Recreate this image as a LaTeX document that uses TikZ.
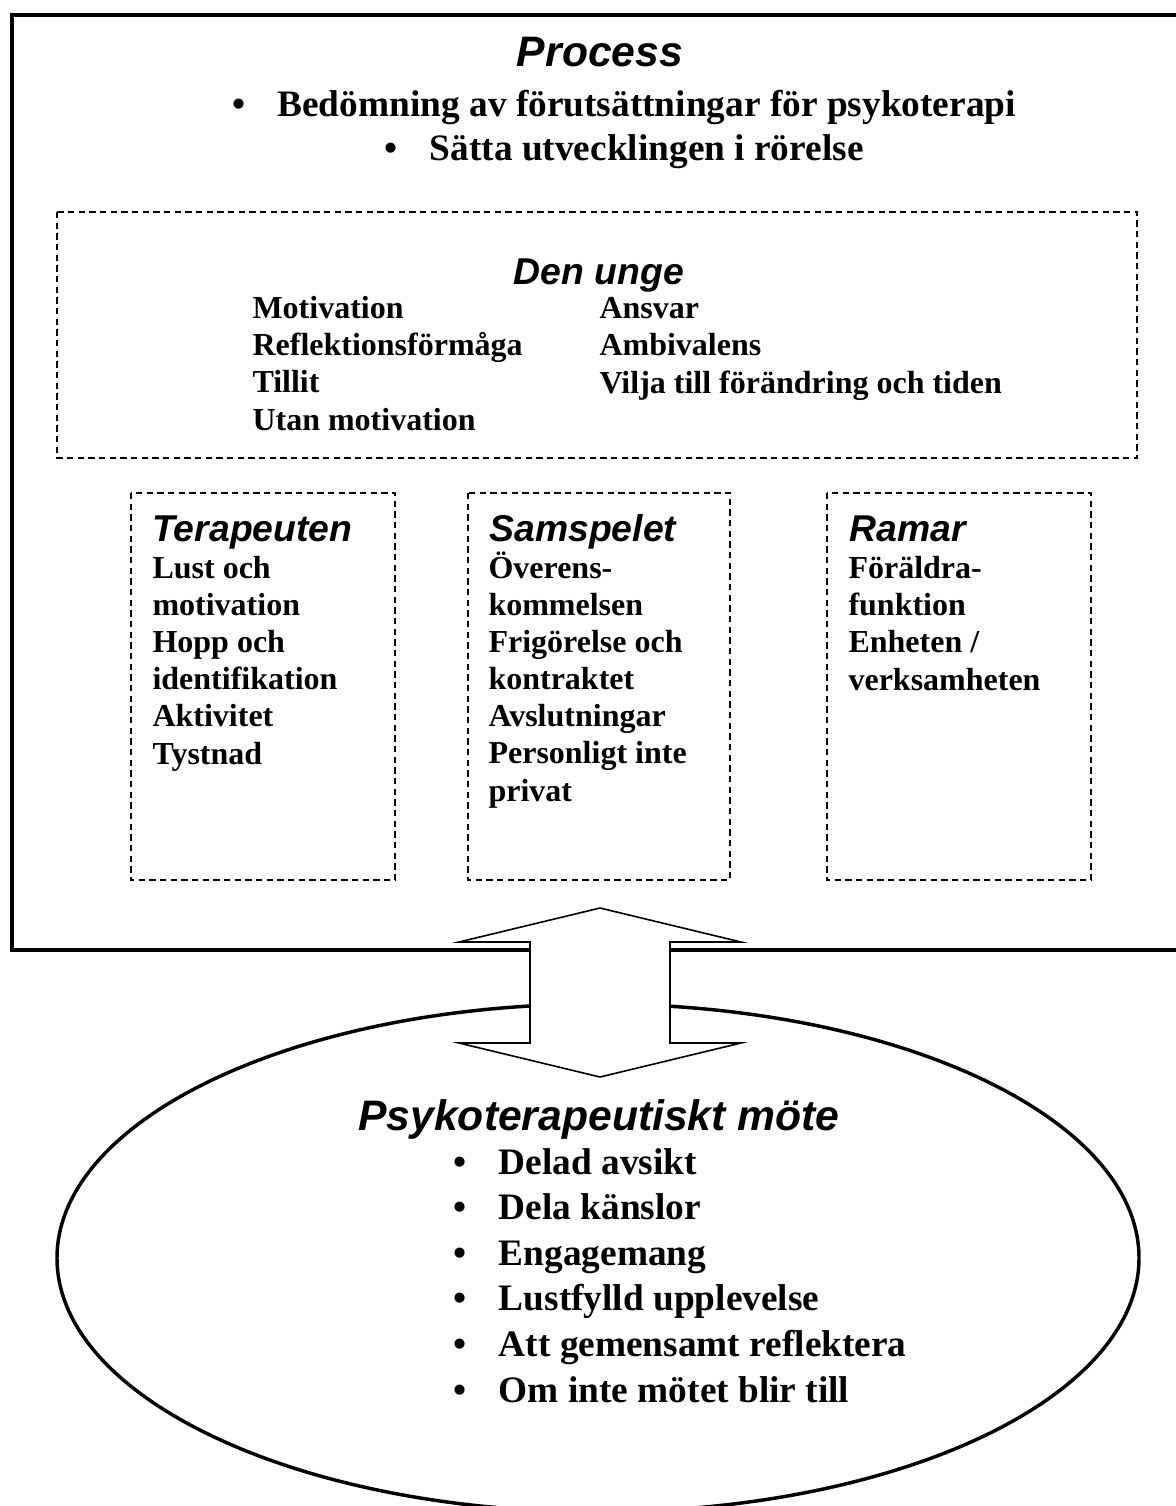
\documentclass[tikz,border=0pt]{standalone}
\usepackage{fontspec}
\setmainfont{Liberation Serif}
\newfontfamily\headfont{Liberation Sans}

\tikzset{
  headline/.style={font=\headfont\bfseries\itshape\fontsize{14}{17}\selectfont, inner sep=0pt},
  bodytext/.style={font=\bfseries\fontsize{12}{13.9}\selectfont, align=left, inner sep=0pt},
  dashbox/.style={draw, dash pattern=on 2.4pt off 1.6pt, line width=0.6pt},
}
\newcommand{\bul}{\makebox[17pt][l]{\textbullet}}

\begin{document}
\begin{tikzpicture}[x=0.375pt,y=-0.375pt]
    \useasboundingbox (0,0) rectangle (1176,1506);
    % process frame, open at the right side
    \draw[line width=1.5pt] (1176,15) -- (12,15) -- (12,950) -- (1176,950);
    \node[headline, font=\headfont\bfseries\itshape\fontsize{16}{19}\selectfont, anchor=base] (proc) at (600,67) {Process};
    % multi-line nodes sit on the baseline of their last line
    \node[anchor=base, align=center, inner sep=0pt, font=\bfseries\fontsize{14}{16.5}\selectfont] (procpts) at (624,160)
        {\bul Bedömning av förutsättningar för psykoterapi\\ \bul Sätta utvecklingen i rörelse};

    % den unge
    \draw[dashbox] (57,212) rectangle (1137,458);
    \node[headline, anchor=base] (unge) at (599,284) {Den unge};
    \node[bodytext, anchor=base west] (ungeA) at (252,430) {Motivation\\ Reflektionsförmåga\\ Tillit\\ Utan motivation};
    \node[bodytext, anchor=base west] (ungeB) at (599,393) {Ansvar\\ Ambivalens\\ Vilja till förändring och tiden};

    % three small boxes
    \draw[dashbox] (131,493) rectangle (395,880);
    \draw[dashbox] (468,493) rectangle (730,880);
    \draw[dashbox] (827,493) rectangle (1091,880);
    \node[headline, anchor=base west] (terap) at (152,541) {Terapeuten};
    \node[bodytext, anchor=base west] (terapT) at (152,764) {Lust och\\ motivation\\ Hopp och\\ identifikation\\ Aktivitet\\ Tystnad};
    \node[headline, anchor=base west] (samsp) at (489,541) {Samspelet};
    \node[bodytext, anchor=base west] (samspT) at (488,801) {Överens-\\ kommelsen\\ Frigörelse och\\ kontraktet\\ Avslutningar\\ Personligt inte\\ privat};
    \node[headline, anchor=base west] (ramar) at (849,541) {Ramar};
    \node[bodytext, anchor=base west] (ramarT) at (848,690) {Föräldra-\\ funktion\\ Enheten /\\ verksamheten};

    % meeting
    \draw[line width=1.3pt] (598,1258) ellipse [x radius=541, y radius=254];
    \draw[line width=0.6pt, fill=white] (600,908) -- (741,942) -- (670,942) -- (670,1043) -- (741,1043)
        -- (600,1077) -- (459,1043) -- (530,1043) -- (530,942) -- (459,942) -- cycle;
    \node[headline, font=\headfont\bfseries\itshape\fontsize{16}{19}\selectfont, anchor=base] (mote) at (599,1130) {Psykoterapeutiskt möte};
    \node[anchor=base west, align=left, inner sep=0pt, font=\bfseries\fontsize{14}{17.1}\selectfont] (motepts) at (453,1402)
        {\bul Delad avsikt\\ \bul Dela känslor\\ \bul Engagemang\\ \bul Lustfylld upplevelse\\ \bul Att gemensamt reflektera\\ \bul Om inte mötet blir till};
\end{tikzpicture}
\end{document}
